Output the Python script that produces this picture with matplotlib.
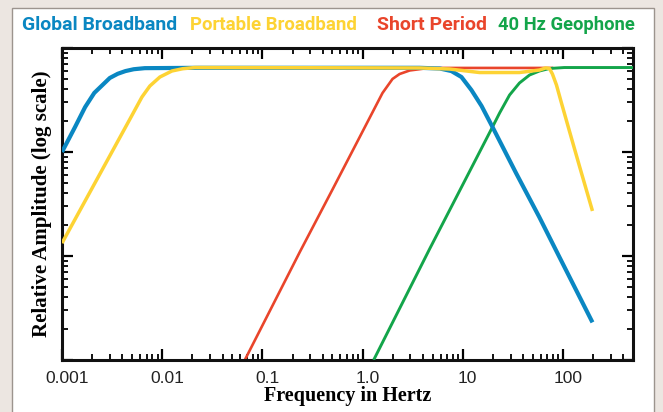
import matplotlib
matplotlib.use("Agg")
import matplotlib.pyplot as plt
from matplotlib.patches import Rectangle
from matplotlib.ticker import LogLocator, NullFormatter, FixedLocator, FixedFormatter
from matplotlib.transforms import ScaledTranslation

# --- data (Hz, relative amplitude) ---
f_global = [0.001, 0.00135, 0.0017, 0.0021, 0.003, 0.0036, 0.0043, 0.0052, 0.0067, 0.024,
            3.7, 5.9, 7.7, 9.7, 12.2, 15.4, 19.8, 34, 58, 92, 197]
a_global = [0.10, 0.174, 0.27, 0.37, 0.515, 0.565, 0.60, 0.625, 0.64, 0.645,
            0.645, 0.635, 0.60, 0.526, 0.394, 0.277, 0.174, 0.0628, 0.0237, 0.0098, 0.0023]

f_portable = [0.001, 0.00251, 0.00476, 0.00628, 0.00753, 0.00948, 0.0125, 0.016, 0.0212, 3.71,
              7.38, 14.7, 36.8, 58.3, 67.0, 73.3, 78.5, 86.1, 96.6, 116, 146, 197]
a_portable = [0.0133, 0.0671, 0.207, 0.338, 0.431, 0.526, 0.601, 0.632, 0.649, 0.643,
              0.628, 0.581, 0.581, 0.614, 0.643, 0.635, 0.562, 0.441, 0.296, 0.159, 0.0733, 0.0271]

f_short = [0.0668, 0.236, 0.504, 0.935, 1.58, 1.99, 2.34, 2.95, 4.16, 6.29, 80]
a_short = [0.001, 0.0109, 0.0441, 0.139, 0.369, 0.504, 0.562, 0.608, 0.635, 0.643, 0.643]

f_geo = [1.29, 4.67, 19.8, 23.3, 29.3, 36.8, 46.4, 58.3, 73.3, 103, 500]
a_geo = [0.001, 0.0117, 0.174, 0.237, 0.353, 0.461, 0.550, 0.601, 0.635, 0.649, 0.649]

names = ["Global Broadband", "Portable Broadband", "Short Period", "40 Hz Geophone"]
colors = ["#0a87c2", "#fdd334", "#e9452b", "#13a54a"]
name_x = [22, 190, 377, 498]
name_w = [156, 168, 110, 137]   # widths of the header words in the reference, px

xticks = [0.001, 0.01, 0.1, 1.0, 10, 100]
xticklabels = ["0.001", "0.01", "0.1", "1.0", "10", "100"]

fig = plt.figure(figsize=(6.63, 4.12), dpi=100)
fig.patch.set_facecolor("#ece6e1")
panel = Rectangle((12 / 663, -0.02), 642 / 663, 1.02 - 8 / 412,
                  transform=fig.transFigure, facecolor="white",
                  edgecolor="#9c948e", lw=1.0, zorder=-10)
fig.add_artist(panel)

ax = fig.add_axes([62 / 663, 52 / 412, 571 / 663, 312 / 412], zorder=1)
ax.set_facecolor("white")

kw = dict(solid_capstyle="butt", solid_joinstyle="round")
ax.plot(f_short, a_short, color=colors[2], lw=1.9, zorder=2, **kw)
ax.plot(f_geo, a_geo, color=colors[3], lw=2.1, zorder=3, **kw)
ax.plot(f_global, a_global, color=colors[0], lw=3.0, zorder=4, **kw)
ax.plot(f_portable, a_portable, color=colors[1], lw=2.5, zorder=5, **kw)

ax.set_xscale("log")
ax.set_yscale("log")
ax.set_xlim(0.001, 500)
ax.set_ylim(0.001, 1.0)

ax.xaxis.set_major_locator(FixedLocator(xticks))
ax.xaxis.set_major_formatter(FixedFormatter(xticklabels))
ax.xaxis.set_minor_locator(LogLocator(base=10, subs=range(2, 10), numticks=20))
ax.xaxis.set_minor_formatter(NullFormatter())
ax.yaxis.set_major_locator(LogLocator(base=10, numticks=10))
ax.yaxis.set_minor_locator(LogLocator(base=10, subs=range(2, 10), numticks=20))
ax.yaxis.set_major_formatter(NullFormatter())
ax.yaxis.set_minor_formatter(NullFormatter())

ax.tick_params(which="both", direction="in", top=True, right=True, color="black")
ax.tick_params(which="major", length=8, width=1.6, labelsize=12.5, pad=8)
ax.tick_params(which="minor", length=4.5, width=1.3)
for lab in ax.get_xticklabels():
    lab.set_family(["Liberation Sans", "DejaVu Sans"])
    lab.set_color("#222222")
    lab.set_transform(lab.get_transform() + ScaledTranslation(5 / 100, 0, fig.dpi_scale_trans))

for s in ax.spines.values():
    s.set_linewidth(2.2)
    s.set_color("#111111")

ax.set_xlabel("Frequency in Hertz", family=["Liberation Serif", "DejaVu Serif"],
              fontsize=14.5, fontweight="bold", labelpad=0)
ax.set_ylabel("Relative Amplitude (log scale)", family=["Liberation Serif", "DejaVu Serif"],
              fontsize=15, fontweight="bold", labelpad=-1)

# header words, squeezed to the widths they have in the reference
heads = []
for nm, c, x in zip(names, colors, name_x):
    t = fig.text(x / 663, 1 - 25 / 412, nm, color=c, fontsize=12.5, fontweight="bold",
                 family=["Roboto", "DejaVu Sans"], ha="left", va="center")
    heads.append(t)
fig.canvas.draw()
r = fig.canvas.get_renderer()
for t, w in zip(heads, name_w):
    t.set_fontsize(t.get_fontsize() * w / t.get_window_extent(r).width)

fig.savefig("out.png", dpi=100, facecolor=fig.get_facecolor())
